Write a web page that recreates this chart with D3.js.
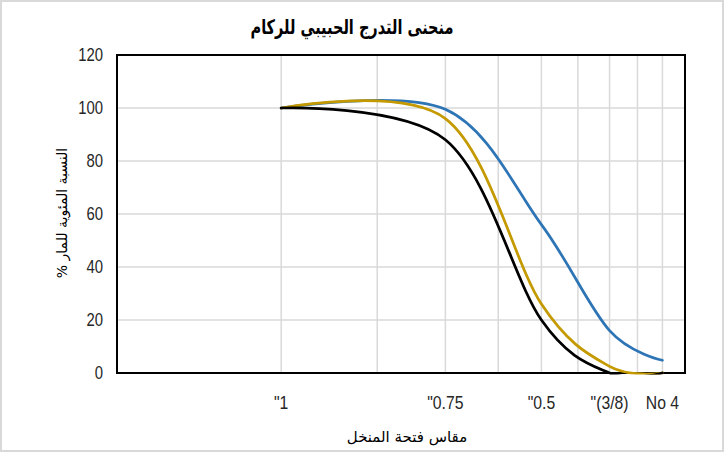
<!DOCTYPE html>
<html>
<head>
<meta charset="utf-8">
<script src="https://cdn.jsdelivr.net/npm/d3@7"></script>
<style>
  html, body { margin: 0; padding: 0; background: #fff; }
  svg { display: block; }
  .lbl { font-family: "Liberation Sans", Arial, sans-serif; fill: #262626; }
  .ar { font-family: "DejaVu Sans", "Liberation Sans", Arial, sans-serif; fill: #000; }
</style>
</head>
<body>
<div id="chart"></div>
<script>
// sieve positions on the log axis: 1", 3/4", 1/2", 3/8", No 4
const SIEVE_POS   = [2, 4, 6, 8, 10];
const BLUE_PASS   = [100, 99.5, 56, 16, 4.8];
const GOLD_PASS   = [100, 96, 26, 2.5, 0];
const BLACK_PASS  = [100, 88, 20, 0, 0];

const X_TICK_LABELS = ['"1', '"0.75', '"0.5', '"(3/8)', "No 4"];
const Y_TICKS       = [0, 20, 40, 60, 80, 100, 120];

const TITLE   = "منحنى التدرج الحبيبي للركام";
const X_TITLE = "مقاس فتحة المنخل";
const Y_TITLE = "النسبة المئوية للمار %";

const W = 724, H = 453;
const margin = { top: 55, right: 39, bottom: 80, left: 117 };

const svg = d3.select("#chart").append("svg")
  .attr("width", W)
  .attr("height", H);

// outer chart frame
svg.append("rect")
  .attr("x", 1).attr("y", 1)
  .attr("width", W - 2).attr("height", H - 3)
  .attr("fill", "#fff")
  .attr("stroke", "#d9d9d9")
  .attr("stroke-width", 2);

const x = d3.scaleLog()
  .domain([1, 11])
  .range([margin.left, W - margin.right]);

const y = d3.scaleLinear()
  .domain([0, 120])
  .range([H - margin.bottom, margin.top]);

// gridlines (log minor steps 2..10)
svg.append("g")
  .selectAll("line")
  .data(x.ticks().filter(d => d > 1))
  .join("line")
  .attr("x1", d => x(d)).attr("x2", d => x(d))
  .attr("y1", y(0)).attr("y2", y(120))
  .attr("stroke", "#d9d9d9")
  .attr("stroke-width", 1.5);

svg.append("g")
  .selectAll("line")
  .data(Y_TICKS.slice(1, -1))
  .join("line")
  .attr("x1", x(1)).attr("x2", x(11))
  .attr("y1", d => y(d)).attr("y2", d => y(d))
  .attr("stroke", "#d9d9d9")
  .attr("stroke-width", 1.5);

// plot area border
svg.append("rect")
  .attr("x", x(1)).attr("y", y(120))
  .attr("width", x(11) - x(1))
  .attr("height", y(0) - y(120))
  .attr("fill", "none")
  .attr("stroke", "#000")
  .attr("stroke-width", 2);

// curves (drawn over the border, clipped just below the zero line)
svg.append("defs").append("clipPath")
  .attr("id", "plot-clip")
  .append("rect")
  .attr("x", x(1)).attr("y", y(120))
  .attr("width", x(11) - x(1))
  .attr("height", y(0) - y(120) + 1.5);

// Excel-style smoothed line = uniform Catmull-Rom
const line = d3.line()
  .x((d, i) => x(SIEVE_POS[i]))
  .y(d => y(d))
  .curve(d3.curveCardinal.tension(0));

const series = [
  { values: BLUE_PASS,  color: "#2e75b6" },
  { values: GOLD_PASS,  color: "#c49a00" },
  { values: BLACK_PASS, color: "#000000" }
];

svg.append("g")
  .attr("clip-path", "url(#plot-clip)")
  .selectAll("path")
  .data(series)
  .join("path")
  .attr("d", d => line(d.values))
  .attr("fill", "none")
  .attr("stroke", d => d.color)
  .attr("stroke-width", 2.75)
  .attr("stroke-linecap", "round");

// y tick labels (condensed like the original narrow face)
svg.append("g")
  .selectAll("text")
  .data(Y_TICKS)
  .join("text")
  .attr("class", "lbl")
  .attr("transform", d => `translate(103,${y(d)}) scale(0.85,1)`)
  .attr("dy", "0.36em")
  .attr("text-anchor", "end")
  .attr("font-size", 17.5)
  .text(d => d);

// x tick labels
svg.append("g")
  .selectAll("text")
  .data(SIEVE_POS)
  .join("text")
  .attr("class", "lbl")
  .attr("transform", d => `translate(${x(d)},409) scale(0.9,1)`)
  .attr("text-anchor", "middle")
  .attr("font-size", 17.5)
  .text((d, i) => X_TICK_LABELS[i]);

// titles
svg.append("text")
  .attr("class", "ar")
  .attr("x", 352)
  .attr("y", 34)
  .attr("text-anchor", "middle")
  .attr("font-size", 20)
  .attr("font-weight", 700)
  .attr("textLength", 203)
  .attr("lengthAdjust", "spacingAndGlyphs")
  .text(TITLE);

svg.append("text")
  .attr("class", "ar")
  .attr("x", 407)
  .attr("y", 442)
  .attr("text-anchor", "middle")
  .attr("font-size", 15)
  .text(X_TITLE);

svg.append("text")
  .attr("class", "ar")
  .attr("direction", "rtl")
  .attr("transform", "translate(67,213) rotate(-90)")
  .attr("text-anchor", "middle")
  .attr("font-size", 14)
  .text(Y_TITLE);
</script>
</body>
</html>
